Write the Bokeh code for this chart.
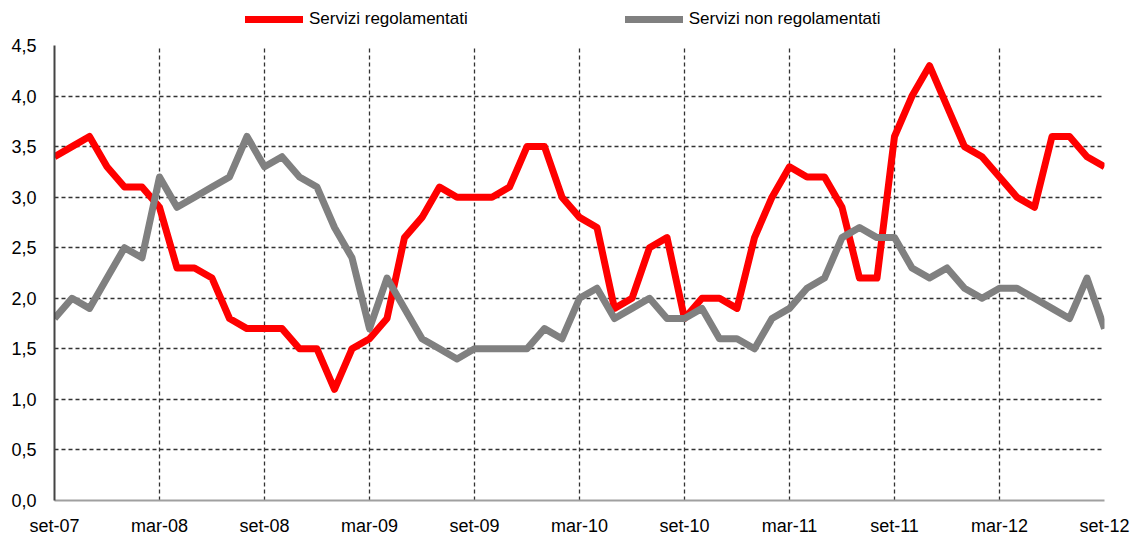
from bokeh.plotting import figure
from bokeh.layouts import column
from bokeh.models import Legend, LegendItem, FixedTicker, Range1d
from bokeh.embed import file_html
from bokeh.resources import INLINE

# ---- data (monthly, set-07 .. set-12) ----
regolamentati = [3.4, 3.5, 3.6, 3.3, 3.1, 3.1, 2.9, 2.3, 2.3, 2.2,
                 1.8, 1.7, 1.7, 1.7, 1.5, 1.5, 1.1, 1.5, 1.6, 1.8,
                 2.6, 2.8, 3.1, 3.0, 3.0, 3.0, 3.1, 3.5, 3.5, 3.0,
                 2.8, 2.7, 1.9, 2.0, 2.5, 2.6, 1.8, 2.0, 2.0, 1.9,
                 2.6, 3.0, 3.3, 3.2, 3.2, 2.9, 2.2, 2.2, 3.6, 4.0,
                 4.3, 3.9, 3.5, 3.4, 3.2, 3.0, 2.9, 3.6, 3.6, 3.4,
                 3.3]
non_regolamentati = [1.8, 2.0, 1.9, 2.2, 2.5, 2.4, 3.2, 2.9, 3.0, 3.1,
                     3.2, 3.6, 3.3, 3.4, 3.2, 3.1, 2.7, 2.4, 1.7, 2.2,
                     1.9, 1.6, 1.5, 1.4, 1.5, 1.5, 1.5, 1.5, 1.7, 1.6,
                     2.0, 2.1, 1.8, 1.9, 2.0, 1.8, 1.8, 1.9, 1.6, 1.6,
                     1.5, 1.8, 1.9, 2.1, 2.2, 2.6, 2.7, 2.6, 2.6, 2.3,
                     2.2, 2.3, 2.1, 2.0, 2.1, 2.1, 2.0, 1.9, 1.8, 2.2,
                     1.7]
months = list(range(len(regolamentati)))
x_tick_positions = [0, 6, 12, 18, 24, 30, 36, 42, 48, 54, 60]
x_tick_labels = ["set-07", "mar-08", "set-08", "mar-09", "set-09", "mar-10",
                 "set-10", "mar-11", "set-11", "mar-12", "set-12"]
y_tick_positions = [0.0, 0.5, 1.0, 1.5, 2.0, 2.5, 3.0, 3.5, 4.0, 4.5]
y_tick_labels = ["0,0", "0,5", "1,0", "1,5", "2,0", "2,5", "3,0", "3,5", "4,0", "4,5"]
series_names = ["Servizi regolamentati", "Servizi non regolamentati"]
series_colors = ["#ff0000", "#808080"]
series_values = [regolamentati, non_regolamentati]

FONT = "Liberation Sans"
W = 1143

# ---- legend strip (series drawn outside its visible range; only the legend shows) ----
top = figure(width=W, height=30, output_backend="svg", toolbar_location=None,
             x_range=Range1d(0, 60), y_range=Range1d(100, 101),
             x_axis_type=None, y_axis_type=None,
             min_border_left=0, min_border_right=0, min_border_top=0, min_border_bottom=0)
top.outline_line_color = None
top.xgrid.visible = False
top.ygrid.visible = False
leg_r = [top.line(months, v, line_color=c, line_width=7, line_cap="round")
         for v, c in zip(series_values, series_colors)]
legend = Legend(items=[LegendItem(label=n, renderers=[r]) for n, r in zip(series_names, leg_r)],
                orientation="horizontal", location=(191, 1),
                glyph_width=58, glyph_height=20, label_height=20,
                label_standoff=6, spacing=157, padding=0, margin=0,
                border_line_color=None, background_fill_alpha=0,
                label_text_font=FONT, label_text_font_size="17px",
                label_text_color="black")
top.add_layout(legend, "center")

# ---- main chart ----
p = figure(width=W, height=509, output_backend="svg", toolbar_location=None,
           x_range=Range1d(0, 60), y_range=Range1d(0, 4.5),
           min_border_left=54, min_border_right=39, min_border_top=15, min_border_bottom=39)
p.outline_line_color = None
p.background_fill_color = "white"
p.border_fill_color = "white"

for g in (p.xgrid, p.ygrid):
    g.grid_line_color = "#333333"
    g.grid_line_dash = "4 3"
    g.grid_line_width = 1.3
p.xgrid.ticker = FixedTicker(ticks=x_tick_positions)
p.ygrid.ticker = FixedTicker(ticks=y_tick_positions)

p.xaxis.ticker = FixedTicker(ticks=x_tick_positions)
p.xaxis.major_label_overrides = {t: l for t, l in zip(x_tick_positions, x_tick_labels)}
p.yaxis.ticker = FixedTicker(ticks=y_tick_positions)
p.yaxis.major_label_overrides = {t: l for t, l in zip(y_tick_positions, y_tick_labels)}
for ax in (p.xaxis, p.yaxis):
    ax.major_tick_line_color = None
    ax.minor_tick_line_color = None
    ax.major_tick_out = 0
    ax.major_tick_in = 0
    ax.major_label_text_font = FONT
    ax.major_label_text_font_size = "18px"
    ax.major_label_text_color = "black"
p.yaxis.axis_line_color = "#444444"
p.yaxis.axis_line_width = 2
p.xaxis.axis_line_color = "#a0a0a0"
p.xaxis.axis_line_width = 2
p.yaxis.major_label_standoff = 18
p.xaxis.major_label_standoff = 15

for v, c in zip(series_values, series_colors):
    p.line(months, v, line_color=c, line_width=7, line_join="round")

layout = column(top, p, spacing=0)
open("out.html", "w").write(file_html(layout, INLINE))
